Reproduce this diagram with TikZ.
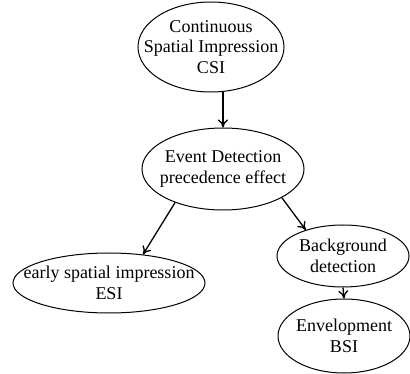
\documentclass[tikz,border=0pt]{standalone}
\usepackage{fontspec}
\setmainfont{Liberation Serif}
\usetikzlibrary{shapes.geometric,arrows.meta}
\newcommand{\bline}[1]{\makebox[0pt]{#1}}
\begin{document}
\begin{tikzpicture}[x=1pt, y=-1pt, font=\fontsize{18}{20.5}\selectfont,
  bubble/.style={draw, ellipse, line width=1pt, inner sep=0pt, align=center},
  link/.style={-{To[length=8pt,width=10pt]}, line width=1.3pt}]
\useasboundingbox (0,0) rectangle (410,374);

\node[bubble, minimum width=146, minimum height=90] (csi) at (211,47) {\bline{Continuous}\\\bline{Spatial Impression}\\\bline{CSI}};
\node[bubble, minimum width=162, minimum height=82] (event) at (223,169) {\bline{Event Detection}\\\bline{precedence effect}};
\node[bubble, minimum width=192, minimum height=60] (esi) at (109,283) {\bline{early spatial impression}\\\bline{ESI}};
\node[bubble, minimum width=132, minimum height=62] (bg) at (343,256) {\bline{Background}\\\bline{detection}};
\node[bubble, minimum width=132, minimum height=74] (bsi) at (344,336) {\bline{Envelopment}\\\bline{BSI}};

\draw[link] (event.north |- csi.south) -- (event.north);
\draw[link] (event.215) -- (esi.40);
\draw[link] (event.-26) -- (bg.145);
\draw[link] (bg.south) -- (bsi.north);
\end{tikzpicture}
\end{document}
